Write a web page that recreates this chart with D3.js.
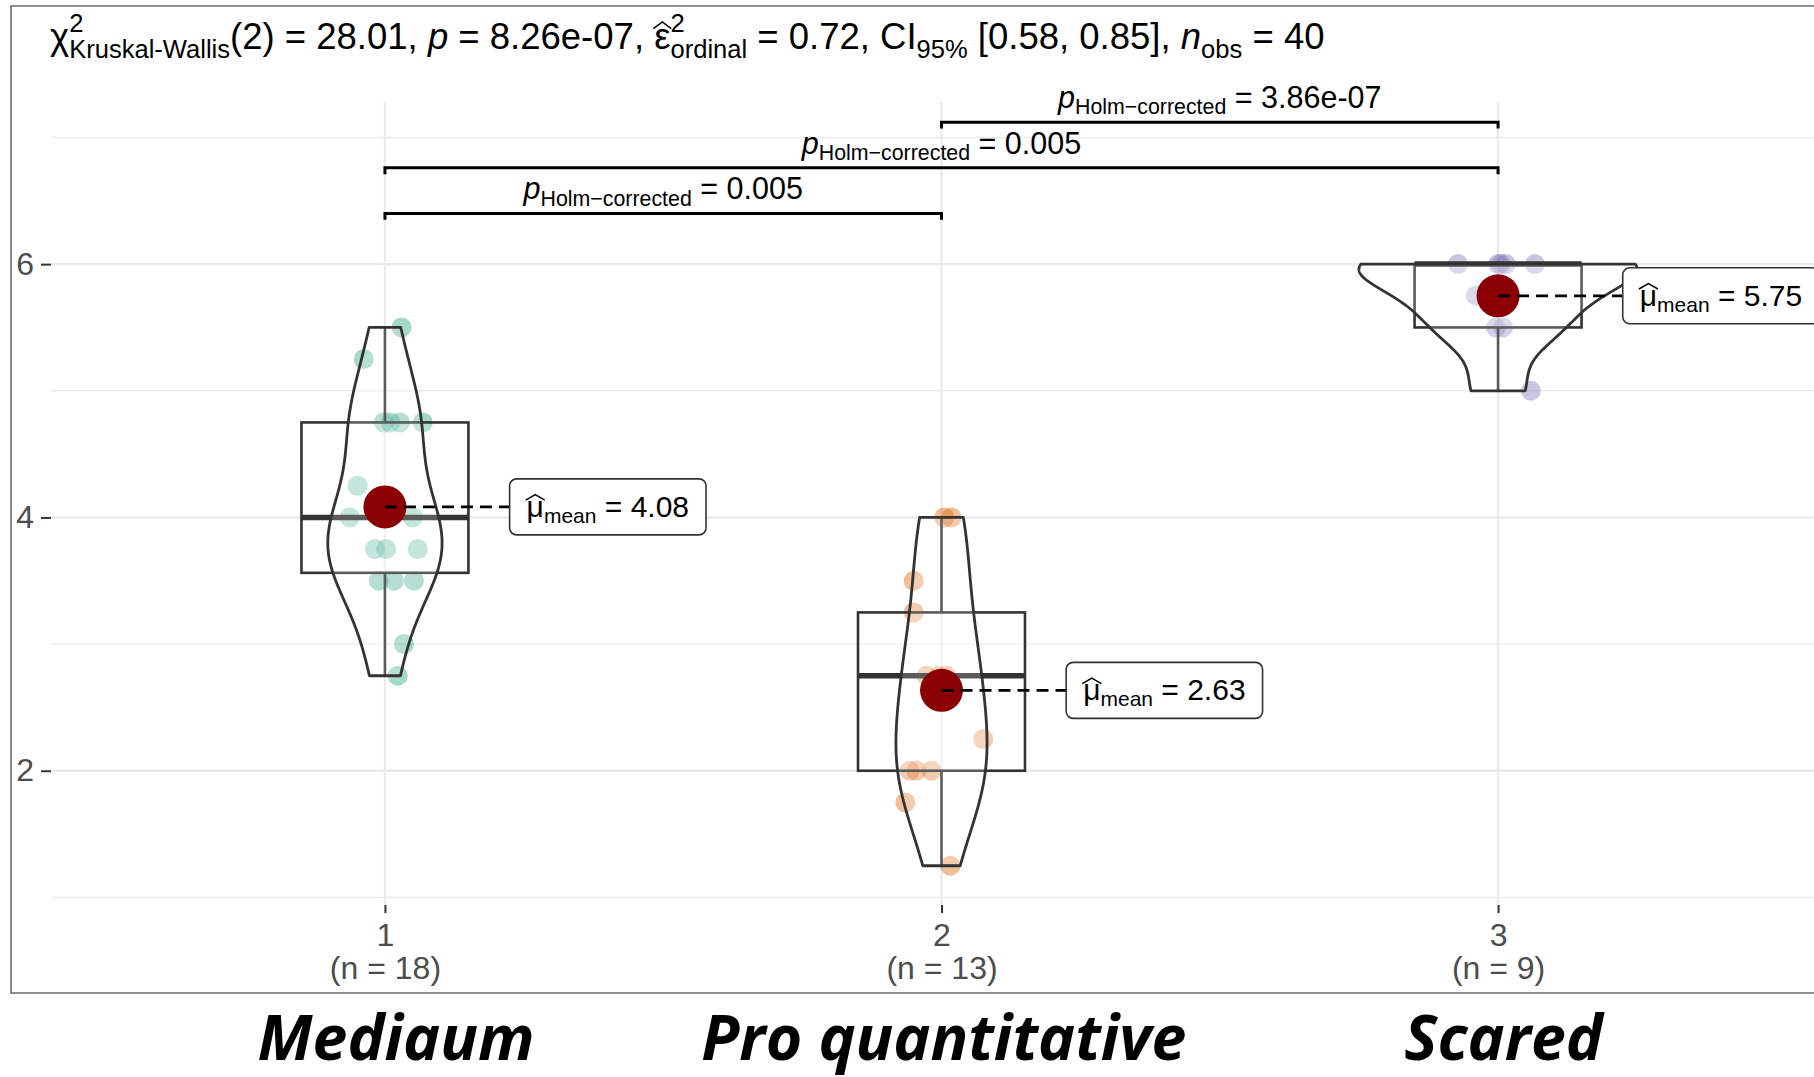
<!DOCTYPE html>
<html>
<head>
<meta charset="utf-8">
<script src="https://cdn.jsdelivr.net/npm/d3@7"></script>
<style>
  body { margin: 0; background: #fff; }
  svg { display: block; font-family: "Liberation Sans", Arial, sans-serif; }
  svg text { white-space: pre; }
</style>
</head>
<body>
<script>
var w = 1814;
var h = 1077;

// groups
var groups = ["1", "2", "3"];
var groupN = ["(n = 18)", "(n = 13)", "(n = 9)"];
var groupNames = ["Mediaum", "Pro quantitative", "Scared"];
var nameNudge = [0.02, 0.004, 0.01];
var colors = ["#1B9E77", "#D95F02", "#7570B3"];

var values1 = [5.5, 5.25, 4.75, 4.75, 4.75, 4.75, 4.25, 4.0, 4.0, 4.0, 3.75, 3.75, 3.75, 3.5, 3.5, 3.5, 3.0, 2.75];
var jitter1 = [0.03, -0.038, -0.002, 0.027, 0.068, 0.01, -0.049, -0.063, 0.0, 0.05, -0.018, 0.002, 0.059, -0.011, 0.016, 0.052, 0.034, 0.023];
var values2 = [4.0, 4.0, 3.5, 3.25, 2.75, 2.75, 2.75, 2.25, 2.0, 2.0, 2.0, 1.75, 1.25];
var jitter2 = [0.005, 0.018, -0.05, -0.05, -0.027, 0.009, -0.005, 0.075, -0.057, -0.045, -0.018, -0.065, 0.016];
var values3 = [6, 6, 6, 6, 6, 5.75, 5.5, 5.5, 5.0];
var jitter3 = [-0.072, 0, 0.014, 0.066, 0.005, -0.04, 0.009, -0.004, 0.059];

var yTicks = [2, 4, 6];
var yMinor = [1, 3, 5, 7];

// pairwise comparisons
var pairFrom = ["1", "1", "2"];
var pairTo = ["2", "3", "3"];
var pairP = ["0.005", "0.005", "3.86e-07"];
var pairHeight = [6.40, 6.76, 7.12];

var allValues = [values1, values2, values3];
var allJitter = [jitter1, jitter2, jitter3];

var svg = d3.select("body").append("svg")
  .attr("width", w)
  .attr("height", h);

var x = d3.scalePoint().domain(groups).range([51, 1832]).padding(0.6);
var y = d3.scaleLinear().domain([0.94, 7.28]).range([905, 102]);
var unit = x.step();

// outer border (right side falls outside the picture)
svg.append("path")
  .attr("d", "M" + w + ",6H11V993H" + w)
  .attr("fill", "none")
  .attr("stroke", "#6b6b6b")
  .attr("stroke-width", 1.6);

// grid
var grid = svg.append("g");
grid.selectAll(".minor").data(yMinor).join("line")
  .attr("x1", 51).attr("x2", w)
  .attr("y1", d => y(d)).attr("y2", d => y(d))
  .attr("stroke", "#ebebeb").attr("stroke-width", 1.4);
grid.selectAll(".major").data(yTicks).join("line")
  .attr("x1", 51).attr("x2", w)
  .attr("y1", d => y(d)).attr("y2", d => y(d))
  .attr("stroke", "#ebebeb").attr("stroke-width", 2.4);
grid.selectAll(".vert").data(groups).join("line")
  .attr("x1", d => x(d)).attr("x2", d => x(d))
  .attr("y1", 102).attr("y2", 905)
  .attr("stroke", "#ebebeb").attr("stroke-width", 2.4);

// axes
var yAxis = svg.append("g")
  .attr("transform", "translate(51,0)")
  .call(d3.axisLeft(y).tickValues(yTicks).tickFormat(d3.format("d")).tickSize(10).tickPadding(7));
var xAxis = svg.append("g")
  .attr("transform", "translate(0,905)")
  .call(d3.axisBottom(x).tickSize(8).tickPadding(10));
[yAxis, xAxis].forEach(function(a) {
  a.select(".domain").remove();
  a.selectAll(".tick line").attr("stroke", "#333").attr("stroke-width", 2);
  a.selectAll(".tick text").attr("fill", "#4d4d4d")
    .attr("font-size", 32).attr("font-family", "Liberation Sans, Arial, sans-serif");
});
xAxis.selectAll(".tick text").each(function(d, i) {
  d3.select(this).append("tspan").attr("x", 0).attr("dy", 33).text(groupN[i]);
});

// math-ish text helper (plotmath look)
function addMath(parent, parts, size, supUp, subDown) {
  var g = parent.append("g");
  var cx = 0;
  parts.forEach(function(p) {
    if (p.sup !== undefined || p.sub !== undefined) {
      var wmax = 0;
      if (p.sup !== undefined) {
        var a = g.append("text").attr("x", cx).attr("y", -size * supUp)
          .attr("font-size", size * 0.7).text(p.sup);
        wmax = Math.max(wmax, a.node().getComputedTextLength());
      }
      if (p.sub !== undefined) {
        var b = g.append("text").attr("x", cx).attr("y", size * subDown)
          .attr("font-size", size * 0.7).text(p.sub);
        wmax = Math.max(wmax, b.node().getComputedTextLength());
      }
      cx += wmax;
    } else {
      var t = g.append("text").attr("x", cx).attr("y", 0)
        .attr("font-size", size).text(p.t);
      if (p.it) t.attr("font-style", "italic");
      var tw = t.node().getComputedTextLength();
      if (p.hat) {
        g.append("path")
          .attr("d", "M" + (cx - 0.05 * tw) + "," + (-0.56 * size) +
                     "L" + (cx + 0.5 * tw) + "," + (-0.74 * size) +
                     "L" + (cx + 1.05 * tw) + "," + (-0.56 * size))
          .attr("fill", "none").attr("stroke", "#000").attr("stroke-width", 1.5);
      }
      cx += tw;
    }
  });
  return { g: g, width: cx };
}

// title
var titleParts = [
  { t: "χ" }, { sup: "2", sub: "Kruskal-Wallis" }, { t: "(2) = 28.01, " },
  { t: "p", it: true }, { t: " = 8.26e-07, " },
  { t: "ε", hat: true }, { sup: "2", sub: "ordinal" }, { t: " = 0.72, CI" },
  { sub: "95%" }, { t: " [0.58, 0.85], " },
  { t: "n", it: true }, { sub: "obs" }, { t: " = 40" }
];
addMath(svg, titleParts, 36.5, 0.47, 0.24).g.attr("transform", "translate(50,49)");

// kernel density (R bw.nrd0, gaussian), trimmed to data range
function bwNrd0(v) {
  var s = v.slice().sort(d3.ascending);
  var iqr = d3.quantileSorted(s, 0.75) - d3.quantileSorted(s, 0.25);
  return 0.9 * Math.min(d3.deviation(s), iqr / 1.34) * Math.pow(s.length, -0.2);
}
function density(v) {
  var bw = bwNrd0(v);
  var lo = d3.min(v), hi = d3.max(v);
  return d3.range(512).map(function(i) {
    var yy = lo + (hi - lo) * i / 511;
    var dens = d3.sum(v, function(xi) {
      var u = (yy - xi) / bw;
      return Math.exp(-0.5 * u * u) / Math.sqrt(2 * Math.PI);
    }) / (v.length * bw);
    return { y: yy, d: dens };
  });
}
var dens = allValues.map(density);
var maxDens = d3.max(dens, dd => d3.max(dd, e => e.d));

// points
groups.forEach(function(gname, gi) {
  svg.append("g").selectAll("circle")
    .data(allValues[gi]).join("circle")
    .attr("cx", (d, i) => x(gname) + allJitter[gi][i] * unit)
    .attr("cy", d => y(d))
    .attr("r", 10)
    .attr("fill", colors[gi])
    .attr("fill-opacity", 0.4);
});

// boxplots
groups.forEach(function(gname, gi) {
  var s = allValues[gi].slice().sort(d3.ascending);
  var q1 = d3.quantileSorted(s, 0.25), med = d3.quantileSorted(s, 0.5), q3 = d3.quantileSorted(s, 0.75);
  var iqr = q3 - q1;
  var hiW = d3.max(s.filter(v => v <= q3 + 1.5 * iqr));
  var loW = d3.min(s.filter(v => v >= q1 - 1.5 * iqr));
  var cx = x(gname), half = 0.15 * unit;
  var g = svg.append("g").attr("stroke", "#333").attr("fill", "none");
  g.append("line").attr("x1", cx).attr("x2", cx).attr("y1", y(q3)).attr("y2", y(hiW)).attr("stroke-width", 2.6);
  g.append("line").attr("x1", cx).attr("x2", cx).attr("y1", y(q1)).attr("y2", y(loW)).attr("stroke-width", 2.6);
  g.append("rect").attr("x", cx - half).attr("width", 2 * half)
    .attr("y", y(q3)).attr("height", y(q1) - y(q3))
    .attr("fill", "#fff").attr("fill-opacity", 0.2).attr("stroke-width", 2.6);
  g.append("line").attr("x1", cx - half).attr("x2", cx + half)
    .attr("y1", y(med)).attr("y2", y(med)).attr("stroke-width", 5.5);
});

// violins
var area = d3.area()
  .y(d => y(d.y));
groups.forEach(function(gname, gi) {
  var cx = x(gname);
  svg.append("path")
    .datum(dens[gi])
    .attr("d", area
      .x0(d => cx - d.d / maxDens * 0.25 * unit)
      .x1(d => cx + d.d / maxDens * 0.25 * unit))
    .attr("fill", "#fff").attr("fill-opacity", 0.2)
    .attr("stroke", "#333").attr("stroke-width", 2.8)
    .attr("stroke-linejoin", "round");
});

// means + labels
groups.forEach(function(gname, gi) {
  var m = d3.mean(allValues[gi]);
  var cx = x(gname), cy = y(m);
  svg.append("circle").attr("cx", cx).attr("cy", cy).attr("r", 21.5).attr("fill", "#8B0000");
  var bx = cx + 0.224 * unit;
  svg.append("line").attr("x1", cx).attr("x2", bx).attr("y1", cy).attr("y2", cy)
    .attr("stroke", "#000").attr("stroke-width", 2.8).attr("stroke-dasharray", "12 7");
  var lg = svg.append("g");
  var box = lg.append("rect").attr("fill", "#fff").attr("stroke", "#333")
    .attr("stroke-width", 1.6).attr("rx", 7);
  var mt = addMath(lg, [{ t: "μ", hat: true }, { sub: "mean" }, { t: " = " + d3.format(".2f")(m) }], 30, 0.7, 0.2);
  var pad = 17;
  box.attr("x", bx).attr("y", cy - 28).attr("width", mt.width + 2 * pad).attr("height", 56);
  mt.g.attr("transform", "translate(" + (bx + pad) + "," + (cy + 10) + ")");
});

// significance brackets
pairFrom.forEach(function(a, i) {
  var x1 = x(a), x2 = x(pairTo[i]), yy = y(pairHeight[i]), tip = y(pairHeight[i] - 0.05);
  svg.append("path")
    .attr("d", "M" + x1 + "," + tip + "V" + yy + "H" + x2 + "V" + tip)
    .attr("fill", "none").attr("stroke", "#000").attr("stroke-width", 3);
  var lab = addMath(svg, [{ t: "p", it: true }, { sub: "Holm\u2212corrected" }, { t: " = " + pairP[i] }], 30.5, 0.7, 0.2);
  lab.g.attr("transform", "translate(" + ((x1 + x2) / 2 - lab.width / 2) + "," + (yy - 14) + ")");
});

// group names under the plot
svg.append("g").selectAll("text")
  .data(groupNames).join("text")
  .attr("x", (d, i) => x(groups[i]) + nameNudge[i] * unit)
  .attr("y", 1060)
  .attr("text-anchor", "middle")
  .attr("font-family", "Open Sans, sans-serif")
  .attr("font-weight", 700)
  .attr("font-style", "italic")
  .attr("font-size", 62.5)
  .text(d => d);
</script>
</body>
</html>
